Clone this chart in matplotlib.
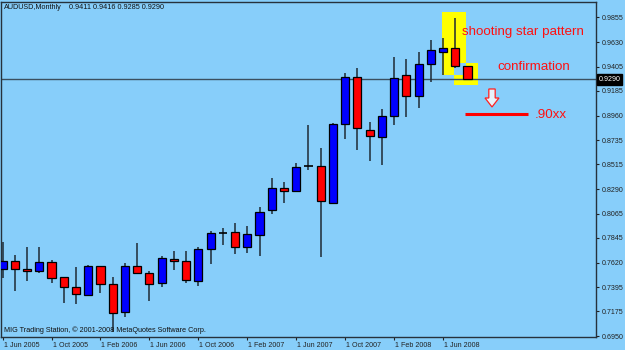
import matplotlib
matplotlib.use('Agg')
import matplotlib.pyplot as plt
from matplotlib.patches import Rectangle, Polygon
import matplotlib.transforms as mtrans
import numpy as np

plt.rcParams['font.family'] = ['Liberation Sans', 'DejaVu Sans']

# ---- data (monthly AUDUSD, Jun 2005 .. Aug 2008) ----
months = ['Jun 2005', 'Jul 2005', 'Aug 2005', 'Sep 2005', 'Oct 2005', 'Nov 2005', 'Dec 2005',
          'Jan 2006', 'Feb 2006', 'Mar 2006', 'Apr 2006', 'May 2006', 'Jun 2006', 'Jul 2006',
          'Aug 2006', 'Sep 2006', 'Oct 2006', 'Nov 2006', 'Dec 2006', 'Jan 2007', 'Feb 2007',
          'Mar 2007', 'Apr 2007', 'May 2007', 'Jun 2007', 'Jul 2007', 'Aug 2007', 'Sep 2007',
          'Oct 2007', 'Nov 2007', 'Dec 2007', 'Jan 2008', 'Feb 2008', 'Mar 2008', 'Apr 2008',
          'May 2008', 'Jun 2008', 'Jul 2008', 'Aug 2008']
opens = [0.7558, 0.7631, 0.7561, 0.7543, 0.7625, 0.7485, 0.7399, 0.7326, 0.7588, 0.7427,
         0.7169, 0.7585, 0.7522, 0.7433, 0.7655, 0.7634, 0.7454, 0.7740, 0.7886, 0.7895,
         0.7764, 0.7871, 0.8096, 0.8296, 0.8269, 0.8497, 0.8500, 0.8160, 0.8883, 0.9314,
         0.8825, 0.8761, 0.8953, 0.9326, 0.9135, 0.9427, 0.9542, 0.9578, 0.9411]
highs = [0.7810, 0.7688, 0.7759, 0.7764, 0.7643, 0.7492, 0.7582, 0.7597, 0.7590, 0.7491,
         0.7613, 0.7795, 0.7545, 0.7679, 0.7722, 0.7722, 0.7759, 0.7904, 0.7935, 0.7977,
         0.7953, 0.8123, 0.8388, 0.8354, 0.8524, 0.8873, 0.8661, 0.8890, 0.9345, 0.9396,
         0.8903, 0.9017, 0.9496, 0.9472, 0.9536, 0.9648, 0.9664, 0.9846, 0.9416]
lows = [0.7476, 0.7363, 0.7451, 0.7527, 0.7436, 0.7254, 0.7239, 0.7315, 0.7345, 0.6985,
        0.7120, 0.7515, 0.7272, 0.7397, 0.7549, 0.7430, 0.7409, 0.7609, 0.7777, 0.7695,
        0.7709, 0.7682, 0.8065, 0.8162, 0.8265, 0.8463, 0.7673, 0.8155, 0.8749, 0.8646,
        0.8545, 0.8512, 0.8873, 0.8949, 0.9026, 0.9268, 0.9329, 0.9390, 0.9285]
closes = [0.7634, 0.7563, 0.7543, 0.7625, 0.7481, 0.7397, 0.7336, 0.7588, 0.7427, 0.7162,
          0.7585, 0.7524, 0.7427, 0.7658, 0.7634, 0.7460, 0.7740, 0.7886, 0.7886, 0.7759,
          0.7877, 0.8080, 0.8296, 0.8269, 0.8493, 0.8497, 0.8183, 0.8883, 0.9314, 0.8843,
          0.8770, 0.8953, 0.9299, 0.9135, 0.9427, 0.9557, 0.9578, 0.9414, 0.9290]

price_ticks = [0.9855, 0.9630, 0.9405, 0.9185, 0.8960, 0.8735, 0.8515, 0.8290,
               0.8065, 0.7845, 0.7620, 0.7395, 0.7175, 0.6950]
date_tick_idx = [0, 4, 8, 12, 16, 20, 24, 28, 32, 36]
date_tick_labels = ['1 ' + months[i] for i in date_tick_idx]
current_price = 0.9290
title_left = 'AUDUSD,Monthly'
title_ohlc = '0.9411 0.9416 0.9285 0.9290'
footer = 'MIG Trading Station, \u00a9 2001-2008 MetaQuotes Software Corp.'

BG = '#87CEFA'
BULL = '#0000FF'
BEAR = '#FF0000'

W, H = 625, 350
fig = plt.figure(figsize=(W / 100, H / 100), dpi=100, facecolor=BG)
ax = fig.add_axes([1 / W, 13 / H, 595 / W, 335 / H], facecolor=BG)

x = np.arange(len(months))
o = np.array(opens); c = np.array(closes)
hi = np.array(highs); lo = np.array(lows)

# annotation rectangles (behind candles)
ax.add_patch(Rectangle((35.92, 0.9329), 1.94, 0.9906 - 0.9329, facecolor='#FFFF00', edgecolor='none', zorder=1))
ax.add_patch(Rectangle((36.88, 0.9238), 2.0, 0.9436 - 0.9238, facecolor='#FFFF00', edgecolor='none', zorder=1))
ax.add_patch(Rectangle((36.88, 0.9329), 0.98, 0.9436 - 0.9329, facecolor=BG, edgecolor='none', zorder=1.1))

# current price line
ax.axhline(current_price, color='#3a4f60', lw=1.0, zorder=2)

# wicks
ax.vlines(x, lo, hi, color='#1e2a34', lw=1.1, zorder=3)

# bodies
width = 0.66
for xi, oi, ci in zip(x, o, c):
    if abs(ci - oi) < 0.0003:
        ax.hlines(oi, xi - width / 2, xi + width / 2, color='black', lw=1.2, zorder=4)
    else:
        col = BULL if ci > oi else BEAR
        ax.bar(xi, abs(ci - oi), bottom=min(oi, ci), width=width, color=col,
               edgecolor='black', lw=0.9, zorder=4)

ax.set_xlim(-0.13, 48.5)
ax.set_ylim(0.6941, 0.9995)

# axes styling
for s in ax.spines.values():
    s.set_color('#26323c')
    s.set_linewidth(1.0)

ax.yaxis.tick_right()
ax.set_yticks(price_ticks)
ax.set_yticklabels(['%.4f' % p for p in price_ticks])
ax.tick_params(axis='y', length=1.8, width=0.8, pad=2.0, labelsize=5.1,
               colors='#222222', direction='out')
ax.set_xticks(date_tick_idx)
ax.set_xticklabels(date_tick_labels)
ax.tick_params(axis='x', length=2.2, width=0.8, pad=1.2, labelsize=5.1,
               colors='#222222', direction='out')
offset = mtrans.ScaledTranslation(1 / 100, 0, fig.dpi_scale_trans)
for lab in ax.get_xticklabels():
    lab.set_horizontalalignment('left')
    lab.set_transform(lab.get_transform() + offset)

# current price label box
bt = mtrans.blended_transform_factory(ax.transAxes, ax.transData)
ax.text(1.004, current_price, '%.4f' % current_price, transform=bt, fontsize=5.1,
        color='white', va='center', ha='left', clip_on=False,
        bbox=dict(boxstyle='square,pad=0.25', facecolor='black', edgecolor='black'))

# annotations
ax.text(37.51, 0.9724, 'shooting star pattern', color='#FF1010', fontsize=9.6,
        va='center', ha='left', zorder=6)
ax.text(40.47, 0.9405, 'confirmation', color='#FF1010', fontsize=9.6,
        va='center', ha='left', zorder=6)
ax.text(43.5, 0.8965, '.90xx', color='#FF1010', fontsize=9.6,
        va='center', ha='left', zorder=6)
ax.plot([37.83, 42.95], [0.8971, 0.8971], color='#FF0000', lw=2.2, solid_capstyle='butt', zorder=5)
ax_c, y_top, y_mid, y_tip = 40.0, 0.9202, 0.9120, 0.9038
arrow = Polygon([(ax_c - 0.26, y_top), (ax_c + 0.26, y_top), (ax_c + 0.26, y_mid),
                 (ax_c + 0.57, y_mid), (ax_c, y_tip), (ax_c - 0.57, y_mid),
                 (ax_c - 0.26, y_mid)], closed=True, facecolor='#E8F2FA',
                edgecolor='#FF2020', lw=0.9, zorder=5)
ax.add_patch(arrow)

# header / footer text
fig.text(4 / W, 1 - 7.5 / H, title_left, fontsize=5.2, color='#111111', va='center', ha='left')
fig.text(69 / W, 1 - 7.5 / H, title_ohlc, fontsize=5.2, color='#111111', va='center', ha='left')
fig.text(4 / W, 1 - 330 / H, footer, fontsize=5.2, color='#111111', va='center', ha='left')

fig.savefig('out.png', dpi=100, facecolor=BG)
